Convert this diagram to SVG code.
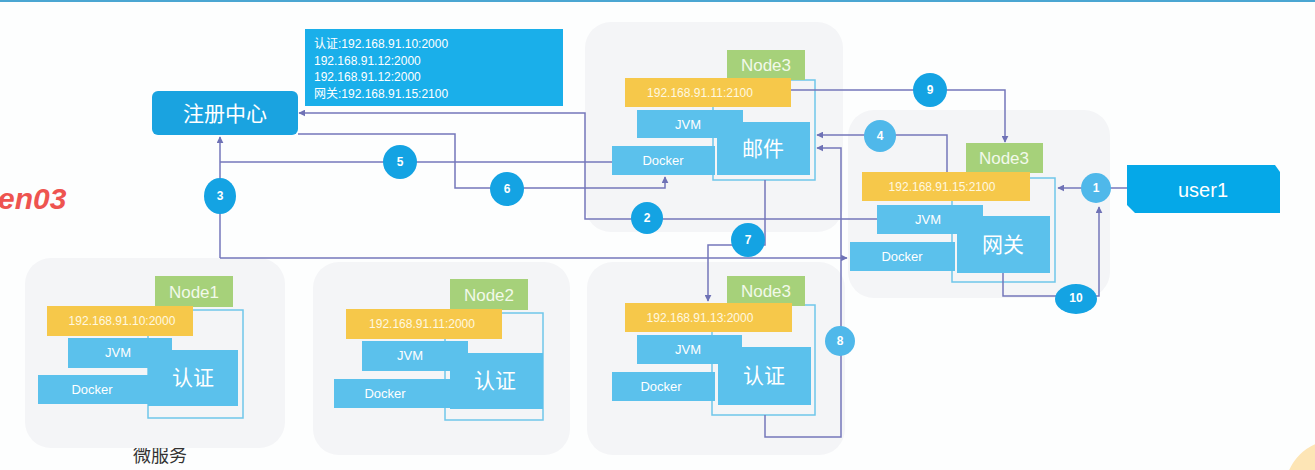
<svg xmlns="http://www.w3.org/2000/svg" width="1315" height="470" viewBox="0 0 1315 470">
<defs>
<marker id="arr" viewBox="0 0 10 10" refX="9" refY="5" markerWidth="7" markerHeight="7" markerUnits="userSpaceOnUse" orient="auto"><path d="M0,0 L10,5 L0,10 z" fill="#6f72b6"/></marker>
<style>
.bg{fill:#fdfefe}
.panel{fill:#f4f5f7}
.green{fill:#a6d17a}
.yellow{fill:#f6c84a}
.blue{fill:#5bc1ec}
.outline{fill:none;stroke:#6fc6ea;stroke-width:1.5}
.conn{fill:none;stroke:#7477bb;stroke-width:1.5}
.t{font-family:"Liberation Sans","Noto Sans CJK SC",sans-serif;fill:#ffffff;text-anchor:middle}
.cjk{font-family:"Noto Sans CJK SC",sans-serif;fill:#ffffff;text-anchor:middle}
.ip{font-family:"Liberation Sans",sans-serif;fill:#fff8e0;font-size:12px;text-anchor:middle}
.nd{font-family:"Liberation Sans",sans-serif;fill:#f2f9ea;font-size:17px;text-anchor:middle}
.small{font-family:"Liberation Sans",sans-serif;fill:#ffffff;font-size:13px;text-anchor:middle}
.num{fill:#14a3e3}
.numl{fill:#4fb8ea}
.nt{font-family:"Liberation Sans",sans-serif;font-weight:bold;font-size:12px;fill:#ffffff;text-anchor:middle}
</style>
</defs>
<rect class="bg" x="0" y="0" width="1315" height="470"/>
<line x1="0" y1="1" x2="1315" y2="1" stroke="#4aa6d2" stroke-width="2"/>
<circle cx="1335" cy="490" r="50" fill="#fde5b5"/>
<text x="-2" y="209" font-family="Liberation Sans,sans-serif" font-size="30" font-weight="bold" font-style="italic" fill="#ee5450">en03</text>
<text x="160" y="462" font-family="Noto Sans CJK SC,sans-serif" font-size="18" fill="#333333" text-anchor="middle">微服务</text>

<!-- panels -->
<rect class="panel" x="25" y="258" width="260" height="190" rx="26"/>
<rect class="panel" x="313" y="262" width="257" height="193" rx="26"/>
<rect class="panel" x="587" y="262" width="258" height="193" rx="26"/>
<rect class="panel" x="585" y="22" width="258" height="210" rx="26"/>
<rect class="panel" x="848" y="110" width="262" height="188" rx="26"/>

<g id="registry">
<rect x="152" y="91" width="146" height="44" rx="6" fill="#1aa3e0"/>
<text class="cjk" x="225" y="121" font-size="21">注册中心</text>
</g>

<g id="info">
<rect x="305" y="29" width="258" height="77" fill="#1aafea"/>
<g font-family="Liberation Sans,Noto Sans CJK SC,sans-serif" font-size="12" fill="#ffffff">
<text x="314" y="48">认证:192.168.91.10:2000</text>
<text x="314" y="65">192.168.91.12:2000</text>
<text x="314" y="81">192.168.91.12:2000</text>
<text x="314" y="98">网关:192.168.91.15:2100</text>
</g>
</g>

<g id="user1">
<polygon points="1127,165 1275,165 1280,172 1280,213 1135,213 1127,205" fill="#05a8e8"/>
<text class="t" x="1203" y="197" font-size="20">user1</text>
</g>

<g id="node-mail">
<rect class="outline" x="713" y="80" width="102" height="100"/>
<rect class="green" x="727" y="50" width="78" height="30"/>
<text class="nd" x="766" y="71">Node3</text>
<rect class="yellow" x="625" y="78" width="166" height="29"/>
<text class="ip" x="700" y="97">192.168.91.11:2100</text>
<rect class="blue" x="637" y="110" width="106" height="28"/>
<text class="small" x="688" y="129">JVM</text>
<rect class="blue" x="717" y="122" width="93" height="53"/>
<text class="cjk" x="763" y="156" font-size="21">邮件</text>
<rect class="blue" x="612" y="146" width="103" height="29"/>
<text class="small" x="663" y="165">Docker</text>
</g>

<g id="node-gateway">
<rect class="outline" x="952" y="178" width="103" height="104"/>
<rect class="green" x="966" y="143" width="77" height="30"/>
<text class="nd" x="1004" y="164">Node3</text>
<rect class="yellow" x="862" y="172" width="168" height="29"/>
<text class="ip" x="942" y="191">192.168.91.15:2100</text>
<rect class="blue" x="877" y="205" width="106" height="29"/>
<text class="small" x="928" y="224">JVM</text>
<rect class="blue" x="957" y="216" width="93" height="57"/>
<text class="cjk" x="1003" y="252" font-size="21">网关</text>
<rect class="blue" x="850" y="242" width="105" height="29"/>
<text class="small" x="902" y="261">Docker</text>
</g>

<g id="node1">
<rect class="outline" x="148" y="310" width="95" height="108"/>
<rect class="green" x="155" y="276" width="78" height="31"/>
<text class="nd" x="194" y="298">Node1</text>
<rect class="yellow" x="47" y="306" width="146" height="30"/>
<text class="ip" x="122" y="325">192.168.91.10:2000</text>
<rect class="blue" x="68" y="338" width="104" height="30"/>
<text class="small" x="118" y="357">JVM</text>
<rect class="blue" x="148" y="350" width="90" height="56"/>
<text class="cjk" x="193" y="385" font-size="21">认证</text>
<rect class="blue" x="38" y="375" width="112" height="29"/>
<text class="small" x="92" y="394">Docker</text>
</g>

<g id="node2">
<rect class="outline" x="445" y="313" width="98" height="107"/>
<rect class="green" x="450" y="279" width="78" height="31"/>
<text class="nd" x="489" y="301">Node2</text>
<rect class="yellow" x="346" y="309" width="156" height="30"/>
<text class="ip" x="422" y="328">192.168.91.11:2000</text>
<rect class="blue" x="362" y="341" width="106" height="30"/>
<text class="small" x="410" y="360">JVM</text>
<rect class="blue" x="450" y="353" width="93" height="56"/>
<text class="cjk" x="495" y="388" font-size="21">认证</text>
<rect class="blue" x="334" y="379" width="116" height="29"/>
<text class="small" x="385" y="398">Docker</text>
</g>

<g id="node3-auth">
<rect class="outline" x="712" y="305" width="103" height="110"/>
<rect class="green" x="727" y="276" width="78" height="30"/>
<text class="nd" x="766" y="297">Node3</text>
<rect class="yellow" x="625" y="303" width="167" height="29"/>
<text class="ip" x="700" y="322">192.168.91.13:2000</text>
<rect class="blue" x="637" y="335" width="105" height="29"/>
<text class="small" x="688" y="354">JVM</text>
<rect class="blue" x="718" y="347" width="93" height="58"/>
<text class="cjk" x="764" y="383" font-size="21">认证</text>
<rect class="blue" x="612" y="372" width="103" height="29"/>
<text class="small" x="661" y="391">Docker</text>
</g>

<g id="connectors">
<path class="conn" d="M1127,188 H1058" marker-end="url(#arr)"/>
<path class="conn" d="M877,219 H585 V113 H299" marker-end="url(#arr)"/>
<path class="conn" d="M220,258 V137" marker-end="url(#arr)"/>
<path class="conn" d="M220,258 H847" marker-end="url(#arr)"/>
<path class="conn" d="M947,172 V135 H817" marker-end="url(#arr)"/>
<path class="conn" d="M612,162 H220"/>
<path class="conn" d="M298,134 H455 V188 H665 V177" marker-end="url(#arr)"/>
<path class="conn" d="M765,180 V245 H708 V301" marker-end="url(#arr)"/>
<path class="conn" d="M765,415 V437 H841 V148 H817" marker-end="url(#arr)"/>
<path class="conn" d="M791,90 H1005 V142" marker-end="url(#arr)"/>
<path class="conn" d="M1003,273 V296 H1099 V207" marker-end="url(#arr)"/>
</g>

<g id="steps">
<circle class="numl" cx="1096" cy="188" r="15"/><text class="nt" x="1096" y="192">1</text>
<circle class="num" cx="647" cy="218" r="16"/><text class="nt" x="647" y="222">2</text>
<ellipse class="num" cx="220" cy="196" rx="16" ry="18"/><text class="nt" x="220" y="200">3</text>
<circle class="numl" cx="880" cy="136" r="16"/><text class="nt" x="880" y="140">4</text>
<circle class="num" cx="400" cy="162" r="17"/><text class="nt" x="400" y="166">5</text>
<circle class="num" cx="507" cy="189" r="17"/><text class="nt" x="507" y="193">6</text>
<circle class="num" cx="748" cy="240" r="17"/><text class="nt" x="748" y="244">7</text>
<circle class="numl" cx="840" cy="341" r="15"/><text class="nt" x="840" y="345">8</text>
<circle class="num" cx="930" cy="90" r="17"/><text class="nt" x="930" y="94">9</text>
<ellipse class="num" cx="1076" cy="299" rx="21" ry="15"/><text class="nt" x="1076" y="302" font-size="10">10</text>
</g>
</svg>
